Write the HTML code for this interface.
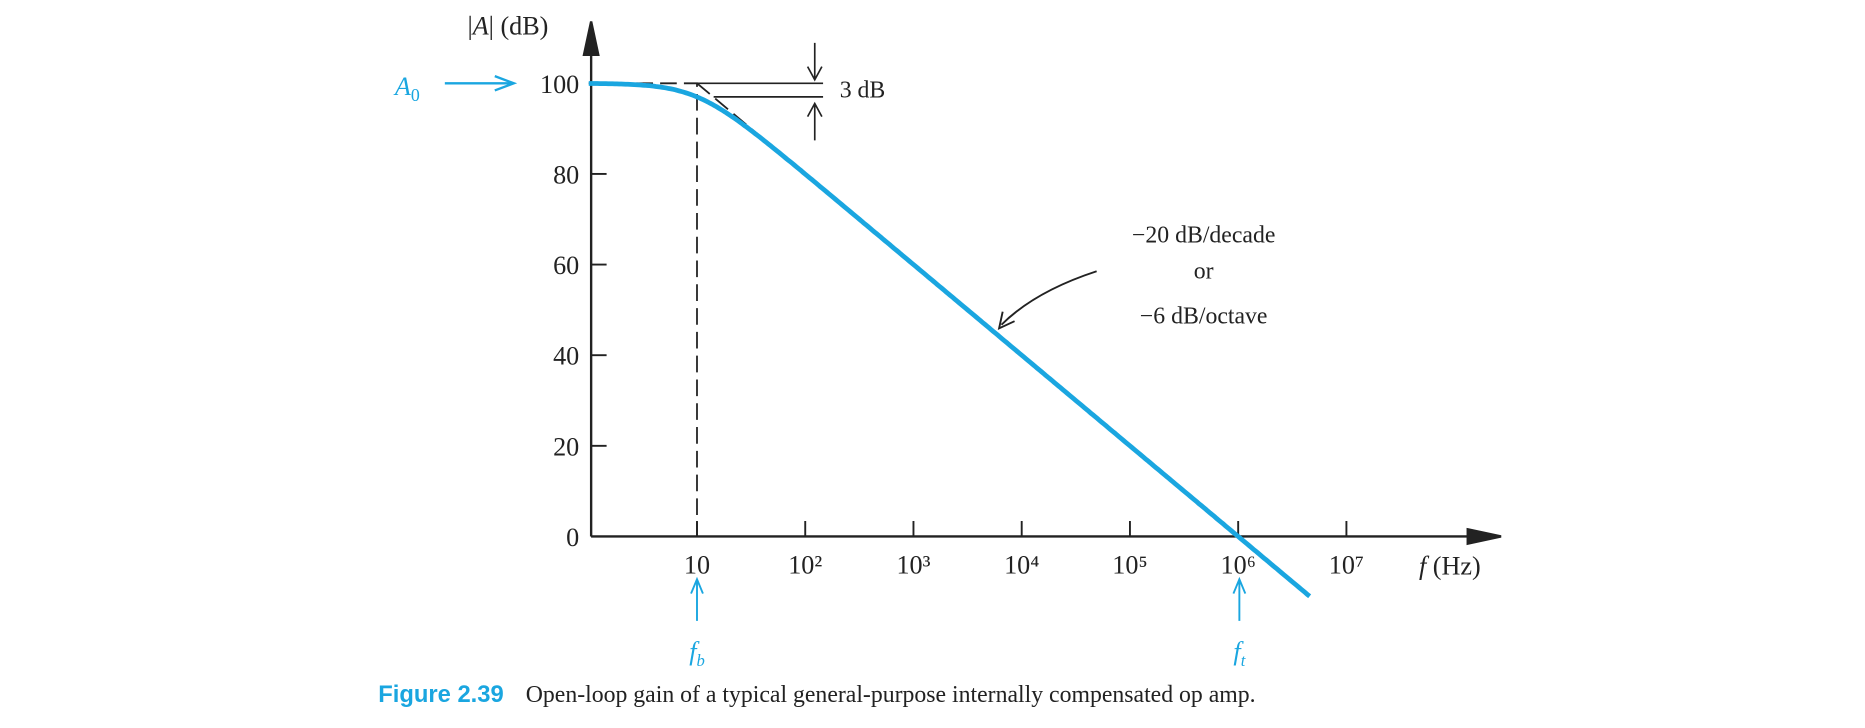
<!DOCTYPE html>
<html><head><meta charset="utf-8"><style>
body{margin:0;background:#fff;width:1865px;height:728px;overflow:hidden}
svg{display:block}
svg text{font-family:"Liberation Serif",serif;fill:#222}
</style></head><body>
<svg width="1865" height="728" viewBox="0 0 1568 612">
<g id="g"></g>
<text x="393" y="29" font-size="22">|<tspan font-style="italic">A</tspan>| (dB)</text>
<text x="1193" y="483" font-size="22"><tspan font-style="italic">f</tspan> (Hz)</text>
<text x="332" y="80" font-size="22" font-style="italic" style="fill:#1aa6e0">A<tspan font-size="15" dy="5" font-style="normal">0</tspan></text>
<line x1="374" y1="70" x2="430" y2="70" stroke="#1aa6e0" stroke-width="2"/>
<path d="M416 64 L432 70 L416 76" fill="none" stroke="#1aa6e0" stroke-width="2"/>
<text x="706" y="82" font-size="20">3 dB</text>
<text x="1012" y="204" font-size="20" text-anchor="middle">−20 dB/decade</text>
<text x="1012" y="234" font-size="20" text-anchor="middle">or</text>
<text x="1012" y="272" font-size="20" text-anchor="middle">−6 dB/octave</text>
<path d="M922 228 Q870 245 842 273" fill="none" stroke="#222" stroke-width="1.6"/>
<path d="M843 262 L840 276 L853 270" fill="none" stroke="#222" stroke-width="1.6"/>
<text x="586" y="555" font-size="22" font-style="italic" text-anchor="middle" style="fill:#1aa6e0">f<tspan font-size="14" dy="5">b</tspan></text>
<text x="1042" y="555" font-size="22" font-style="italic" text-anchor="middle" style="fill:#1aa6e0">f<tspan font-size="14" dy="5">t</tspan></text>
<path d="M586 522 V488 M581 499 L586 487 L591 499 M1042 522 V488 M1037 499 L1042 487 L1047 499" fill="none" stroke="#1aa6e0" stroke-width="1.6"/>
<text x="318" y="590" font-size="20" font-weight="bold" style="fill:#1aa6e0;font-family:'Liberation Sans',sans-serif">Figure 2.39</text>
<text x="442" y="590" font-size="20">Open-loop gain of a typical general-purpose internally compensated op amp.</text>
</svg>
<script>
const yTicks=[0,20,40,60,80,100];
const xTickExp=[1,2,3,4,5,6,7];
const xTickLabels=["10","10²","10³","10⁴","10⁵","10⁶","10⁷"];
const A0=[100];
const fb=[10];
const fEnd=[4.6e6];
const X=lf=>495+lf*91.0, Y=v=>451-v*3.81;
const g=document.getElementById('g'),NS='http://www.w3.org/2000/svg';
function mk(t,a,txt){const e=document.createElementNS(NS,t);for(const k in a)e.setAttribute(k,a[k]);if(txt!=null)e.textContent=txt;g.appendChild(e);return e;}
let e=mk('path',{d:`M497 451 V28 M491 46 L497 18 L503 46 Z M497 451 H1250 M1234 445 L1262 451 L1234 457 Z`,stroke:'#222','stroke-width':2,fill:'#222'});


yTicks.forEach(v=>{
 let t=mk('line',{x1:497,x2:510,y1:Y(v),y2:Y(v),stroke:'#222','stroke-width':1.6});
 
 
 let l=mk('text',{x:487,y:Y(v)+8,'font-size':22,'text-anchor':'end'},String(v));
 
 
});
xTickExp.forEach((p,i)=>{
 let t=mk('line',{x1:X(p),x2:X(p),y1:451,y2:438,stroke:'#222','stroke-width':1.6});
 
 
 let l=mk('text',{x:X(p),y:482,'font-size':22,'text-anchor':'middle'},xTickLabels[i]);
 
 
});
const lb=Math.log10(fb[0]);
let d=mk('path',{d:`M${X(0)} ${Y(A0[0])} H${X(lb)} V451 M${X(lb)} ${Y(A0[0])} L${X(lb+0.8)} ${Y(A0[0]-16)}`,stroke:'#222','stroke-width':1.5,fill:'none','stroke-dasharray':'14 6'});


let h=mk('path',{d:`M${X(lb)} ${Y(A0[0])} H692 M600 ${Y(A0[0]-3)} H692 M685 36 V66 M679 56 L685 67 L691 56 M685 118 V88 M679 98 L685 87 L691 98`,stroke:'#222','stroke-width':1.4,fill:'none'});


let pts=[];const le=Math.log10(fEnd[0]);
for(let lf=0;lf<=le+1e-9;lf+=0.02){const v=A0[0]-10*Math.log10(1+Math.pow(10,2*(lf-lb)));pts.push(X(lf).toFixed(1)+','+Y(v).toFixed(1));}
let c=mk('polyline',{points:pts.join(' '),fill:'none',stroke:'#1aa6e0','stroke-width':4});


</script>
</body></html>
